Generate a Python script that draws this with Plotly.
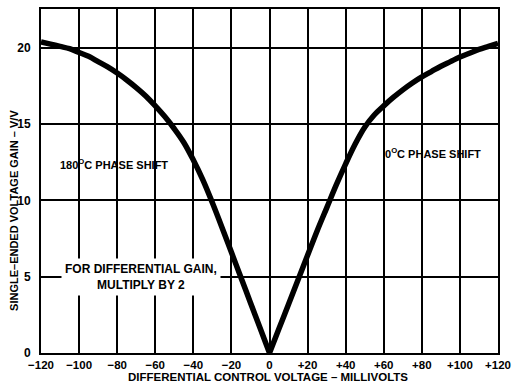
import plotly.graph_objects as go

# Data (5 mV steps)
x_neg = [-120, -115, -110, -105, -100, -95, -90, -85, -80, -75, -70, -65, -60, -55, -50,
         -45, -40, -35, -30, -25, -20, -15, -10, -5, 0]
gain_neg = [20.4, 20.25, 20.1, 19.95, 19.7, 19.45, 19.1, 18.75, 18.35, 17.9, 17.4, 16.85, 16.2,
            15.5, 14.7, 13.8, 12.65, 11.35, 9.85, 8.25, 6.6, 4.95, 3.3, 1.65, 0]
x_pos = [0, 5, 10, 15, 20, 25, 30, 35, 40, 45, 50, 55, 60, 65, 70, 75, 80, 85, 90, 95, 100,
         105, 110, 115, 120]
gain_pos = [0, 1.6, 3.2, 4.8, 6.4, 8.0, 9.5, 11.0, 12.4, 13.7, 14.8, 15.6, 16.2, 16.75, 17.25,
            17.7, 18.1, 18.45, 18.8, 19.1, 19.4, 19.65, 19.9, 20.1, 20.3]

x_tickvals = [-120, -100, -80, -60, -40, -20, 0, 20, 40, 60, 80, 100, 120]
x_ticktext = ["\u2212120", "\u2212100", "\u221280", "\u221260", "\u221240", "\u221220", "0",
              "+20", "+40", "+60", "+80", "+100", "+120"]
y_tickvals = [0, 5, 10, 15, 20]
y_ticktext = ["0", "5", "10", "15", "20"]

FONT = "Liberation Sans"


def b(s):
    return "<b>" + s + "</b>"


fig = go.Figure()
for xs, ys in [(x_neg, gain_neg), (x_pos, gain_pos)]:
    fig.add_trace(go.Scatter(x=xs, y=ys, mode="lines",
                             line=dict(color="black", width=5.5, shape="spline", smoothing=1.0),
                             showlegend=False, hoverinfo="skip"))

fig.update_xaxes(range=[-120, 120], tickvals=x_tickvals, ticktext=[b(t) for t in x_ticktext],
                 showgrid=True, gridcolor="black", gridwidth=1.5,
                 showline=True, linecolor="black", linewidth=2, mirror=True,
                 zeroline=False, ticks="", ticklabelstandoff=0,
                 tickfont=dict(family=FONT, size=11.5, color="black"))
fig.update_yaxes(range=[0, 22.55], tickvals=y_tickvals, ticktext=[b(t) for t in y_ticktext],
                 showgrid=True, gridcolor="black", gridwidth=1.5,
                 showline=True, linecolor="black", linewidth=2, mirror=True,
                 zeroline=False, ticks="", ticklabelstandoff=6,
                 tickfont=dict(family=FONT, size=12, color="black"))

afont = dict(family=FONT, size=11, color="black")
fig.add_annotation(x=-81.5, y=12.4, text=b("180<sup>O</sup>C PHASE SHIFT"), showarrow=False, font=afont)
fig.add_annotation(x=86, y=13.1, text=b("0<sup>O</sup>C PHASE SHIFT"), showarrow=False, font=afont)
fig.add_annotation(x=-67.3, y=5.0, text=b("FOR DIFFERENTIAL GAIN,") + "<br>" + b("MULTIPLY BY 2"),
                   showarrow=False, font=dict(family=FONT, size=12, color="black"),
                   bgcolor="white", borderpad=3, align="center")

fig.add_annotation(xref="paper", yref="paper", x=0.497, y=0, yshift=-24, yanchor="middle",
                   text=b("DIFFERENTIAL CONTROL VOLTAGE \u2013 MILLIVOLTS"), showarrow=False,
                   font=dict(family=FONT, size=11.5, color="black"))
fig.add_annotation(xref="paper", yref="paper", x=0, xshift=-27, y=0.413, xanchor="center",
                   text=b("SINGLE\u2013ENDED VOLTAGE GAIN \u2013 V/V"), textangle=-90, showarrow=False,
                   font=dict(family=FONT, size=11, color="black"))

fig.update_layout(width=518, height=383, margin=dict(l=41, r=17, t=7, b=30),
                  paper_bgcolor="white", plot_bgcolor="white")

fig.write_html("out.html", config={"displayModeBar": False},
               post_script="document.body.style.margin='0';document.body.style.overflow='hidden';")
